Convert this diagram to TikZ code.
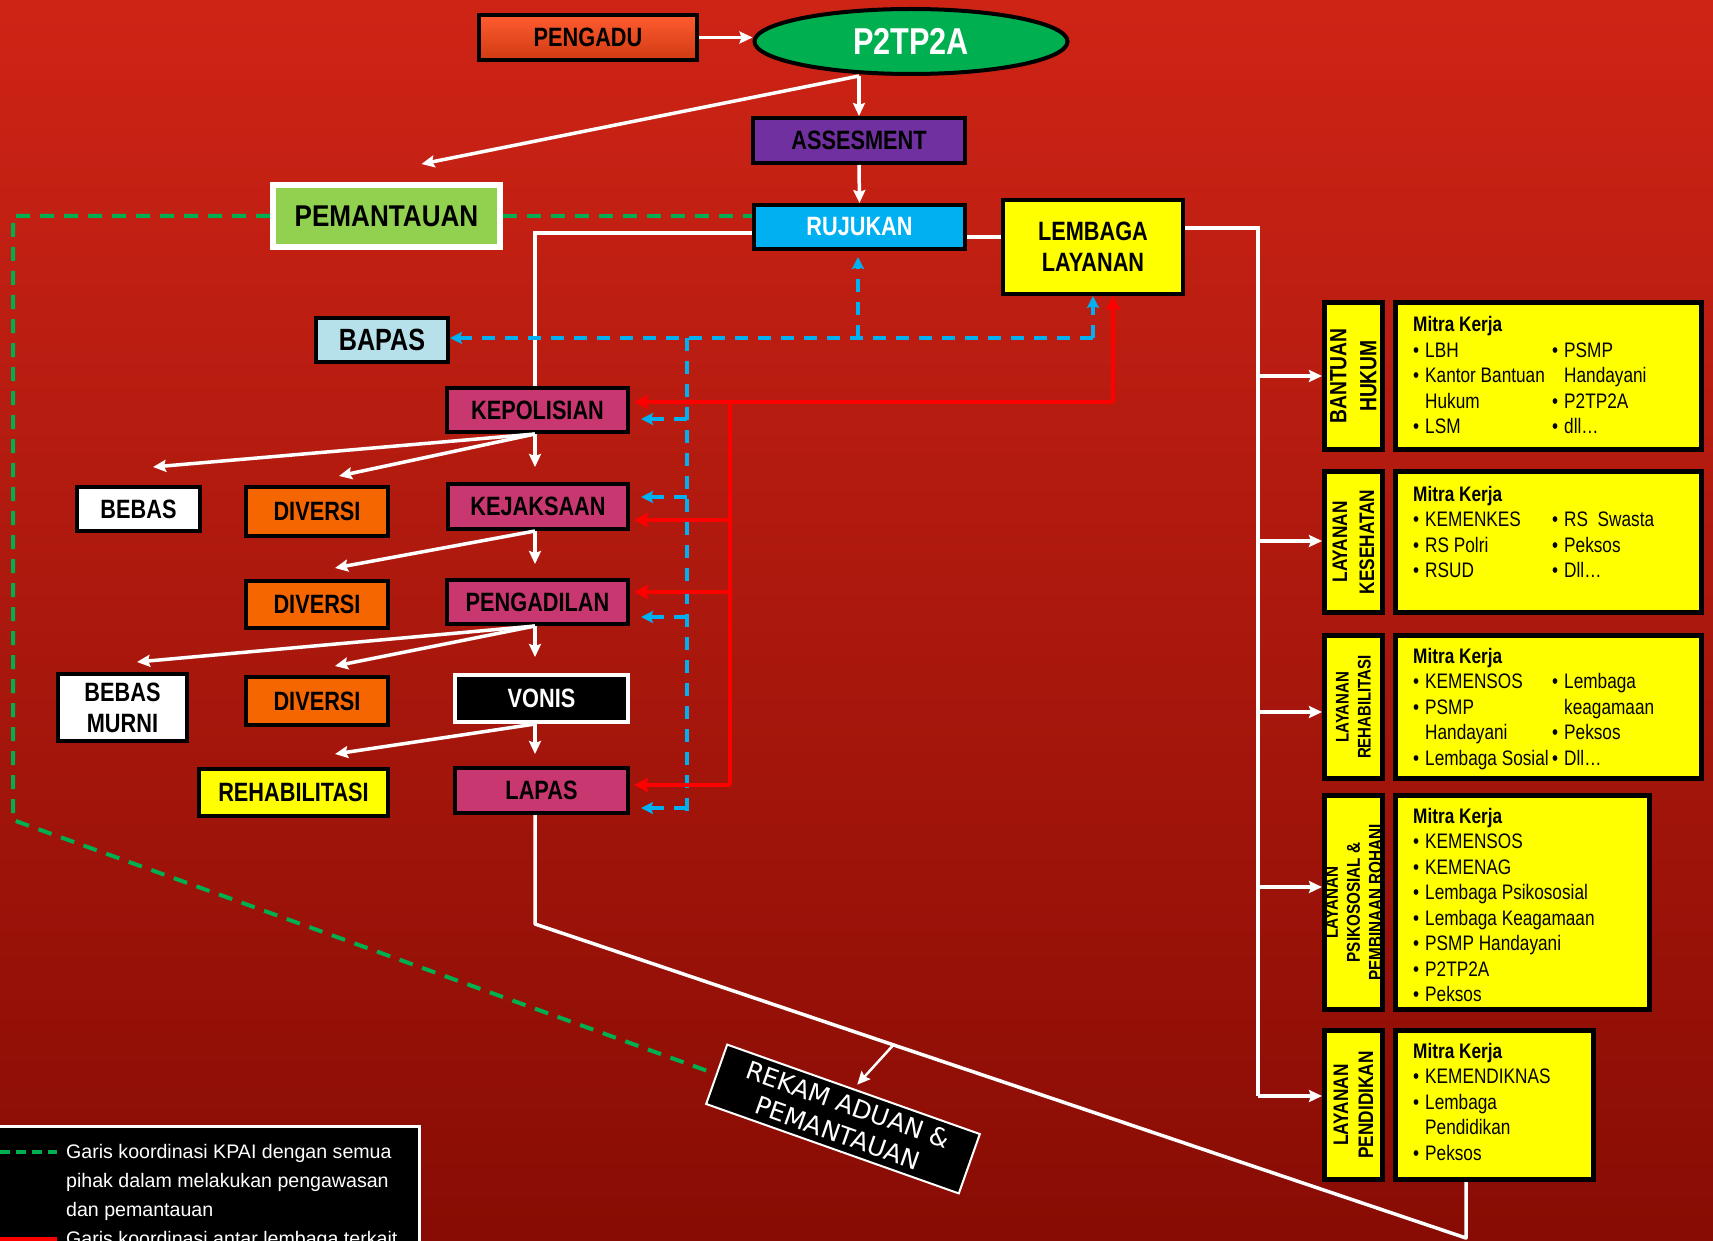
\documentclass[tikz,border=0pt]{standalone}
\usepackage{fontspec}
\setmainfont{Liberation Sans}
\newfontfamily\nar[FakeStretch=0.82]{Liberation Sans}
\newfontfamily\pemf[FakeStretch=0.87]{Liberation Sans}
\newfontfamily\dvs{DejaVu Sans}
\usetikzlibrary{shapes.geometric,arrows.meta,calc}
\newcommand\setfs[2]{\fontsize{#1pt}{#2pt}\selectfont}
\newcommand\bul{\makebox[12pt][l]{\textbullet}}

\definecolor{bgtop}{RGB}{206,36,22}
\definecolor{bgbot}{RGB}{136,12,4}
\definecolor{pengtop}{RGB}{255,92,48}
\definecolor{pengbot}{RGB}{208,58,18}
\definecolor{pgreen}{RGB}{0,176,80}
\definecolor{ppurple}{RGB}{112,48,160}
\definecolor{lgreen}{RGB}{146,208,80}
\definecolor{cyanb}{RGB}{0,176,240}
\definecolor{pyellow}{RGB}{255,255,0}
\definecolor{bapasc}{RGB}{182,224,234}
\definecolor{magc}{RGB}{200,55,112}
\definecolor{orangec}{RGB}{245,102,0}
\definecolor{redl}{RGB}{255,0,0}
\definecolor{blued}{RGB}{0,176,240}
\definecolor{greend}{RGB}{0,176,80}

\tikzset{
  boxst/.style={draw=black, line width=4pt, inner sep=0pt, align=center,
    font=\nar\bfseries\setfs{26.5}{31}},
  labelst/.style={draw=black, line width=5pt, fill=pyellow, inner sep=0pt,
    align=center, rotate=90, minimum height=58pt},
  mitrast/.style={draw=black, line width=5pt, fill=pyellow, inner sep=0pt},
  itemst/.style={anchor=base west, inner sep=0pt, font=\nar\setfs{21}{25.5}},
  headst/.style={anchor=base west, inner sep=0pt, font=\nar\bfseries\setfs{21}{25.5}},
  legst/.style={anchor=base west, inner sep=0pt, text=white, font=\setfs{19.6}{29}},
  wline/.style={draw=white, line width=3.5pt},
  warrow/.style={wline, -{Stealth[length=13pt,width=12pt,inset=2pt]}},
  bdash/.style={draw=blued, line width=3.5pt, dash pattern=on 13pt off 10pt},
  barrow/.style={bdash, -{Stealth[length=12pt,width=12pt,inset=2pt]}},
  rline/.style={draw=redl, line width=4pt},
  rarrow/.style={rline, -{Stealth[length=14pt,width=14pt,inset=2pt]}},
  gdash/.style={draw=greend, line width=4pt, dash pattern=on 14pt off 10pt},
}

\begin{document}
\begin{tikzpicture}[x=1pt,y=-1pt]
\useasboundingbox (0,0) rectangle (1713,1241);
\shade[top color=bgtop, bottom color=bgbot] (0,0) rectangle (1713,1241);

% ---------- top flow ----------
\node[boxst, minimum width=218pt, minimum height=45pt, top color=pengtop, bottom color=pengbot] (pengadu) at (588,37.5) {PENGADU};
\node[ellipse, draw=black, line width=4pt, fill=pgreen, minimum width=313pt, minimum height=65pt,
  inner sep=0pt, text=white, font=\nar\bfseries\setfs{37.4}{40}] (p2) at (911,41.5) {P2TP2A};
\node[boxst, fill=ppurple, minimum width=212pt, minimum height=45pt] (asses) at (859,140.5) {ASSESMENT};
\node[boxst, draw=white, line width=6pt, fill=lgreen, minimum width=227pt, minimum height=62pt,
  font=\pemf\bfseries\setfs{30}{34}] (pem) at (386.5,216) {PEMANTAUAN};
\node[boxst, fill=cyanb, text=white, minimum width=211pt, minimum height=44pt] (ruj) at (859.5,227) {RUJUKAN};
\node[boxst, fill=pyellow, minimum width=180pt, minimum height=94pt] (lemb) at (1093,247) {LEMBAGA\\LAYANAN};
\node[boxst, fill=bapasc, minimum width=132pt, minimum height=44pt, font=\nar\bfseries\setfs{30.7}{34}] (bapas) at (382,340) {BAPAS};

% ---------- justice chain ----------
\node[boxst, fill=magc, minimum width=181pt, minimum height=44pt] (kep) at (537.5,410) {KEPOLISIAN};
\node[boxst, fill=magc, minimum width=180pt, minimum height=45pt] (kej) at (538,506.5) {KEJAKSAAN};
\node[boxst, fill=magc, minimum width=181pt, minimum height=44pt] (peng) at (537.5,602) {PENGADILAN};
\node[boxst, fill=black, draw=white, text=white, minimum width=173pt, minimum height=47pt] (vonis) at (541.5,698.5) {VONIS};
\node[boxst, fill=magc, minimum width=173pt, minimum height=45pt] (lapas) at (541.5,790.5) {LAPAS};
\node[boxst, fill=white, minimum width=123pt, minimum height=44pt] (bebas) at (138.5,509) {BEBAS};
\node[boxst, fill=orangec, minimum width=142pt, minimum height=49pt] (div1) at (317,511.5) {DIVERSI};
\node[boxst, fill=orangec, minimum width=142pt, minimum height=47pt] (div2) at (317,604.5) {DIVERSI};
\node[boxst, fill=white, minimum width=129pt, minimum height=67pt] (bmurni) at (122.5,707.5) {BEBAS\\MURNI};
\node[boxst, fill=orangec, minimum width=142pt, minimum height=48pt] (div3) at (317,701) {DIVERSI};
\node[boxst, fill=pyellow, minimum width=189pt, minimum height=47pt] (rehab) at (293.5,792.5) {REHABILITASI};

% ---------- service boxes ----------
\node[labelst, minimum width=147pt, font=\nar\bfseries\setfs{23.5}{30}] (lb1) at (1353.5,376) {BANTUAN\\HUKUM};
\node[labelst, minimum width=141pt, font=\nar\bfseries\setfs{21}{27}] (lb2) at (1353.5,542) {LAYANAN\\KESEHATAN};
\node[labelst, minimum width=143pt, font=\nar\bfseries\setfs{18.3}{22}] (lb3) at (1353.5,707) {LAYANAN\\REHABILITASI};
\node[labelst, minimum width=214pt, font=\nar\bfseries\setfs{18.6}{22}] (lb4) at (1353.5,902.5) {LAYANAN\\PSIKOSOSIAL \&\\PEMBINAAN ROHANI};
\node[labelst, minimum width=149pt, font=\nar\bfseries\setfs{21}{25}] (lb5) at (1353.5,1105) {LAYANAN\\PENDIDIKAN};

\node[mitrast, minimum width=306pt, minimum height=147pt] (mk1) at (1548.5,376) {};
\node[mitrast, minimum width=306pt, minimum height=141pt] (mk2) at (1548.5,542) {};
\node[mitrast, minimum width=306pt, minimum height=143pt] (mk3) at (1548.5,707) {};
\node[mitrast, minimum width=254pt, minimum height=214pt] (mk4) at (1522.5,902.5) {};
\node[mitrast, minimum width=198pt, minimum height=149pt] (mk5) at (1494.5,1105) {};

% Mitra Kerja lists
\node[headst] (mk1t) at (1413,331) {Mitra Kerja};
\node[itemst] (mk1a) at (1413,357) {\bul LBH};
\node[itemst] (mk1b) at (1413,382.5) {\bul Kantor Bantuan};
\node[itemst] (mk1c) at (1425,408) {Hukum};
\node[itemst] (mk1d) at (1413,433.5) {\bul LSM};
\node[itemst] (mk1e) at (1552,357) {\bul PSMP};
\node[itemst] (mk1f) at (1564,382.5) {Handayani};
\node[itemst] (mk1g) at (1552,408) {\bul P2TP2A};
\node[itemst] (mk1h) at (1552,433.5) {\bul dll…};

\node[headst] (mk2t) at (1413,501) {Mitra Kerja};
\node[itemst] (mk2a) at (1413,526.5) {\bul KEMENKES};
\node[itemst] (mk2b) at (1413,552) {\bul RS Polri};
\node[itemst] (mk2c) at (1413,577.5) {\bul RSUD};
\node[itemst] (mk2d) at (1552,526.5) {\bul RS\ \ Swasta};
\node[itemst] (mk2e) at (1552,552) {\bul Peksos};
\node[itemst] (mk2f) at (1552,577.5) {\bul Dll…};

\node[headst] (mk3t) at (1413,663) {Mitra Kerja};
\node[itemst] (mk3a) at (1413,688.5) {\bul KEMENSOS};
\node[itemst] (mk3b) at (1413,714) {\bul PSMP};
\node[itemst] (mk3c) at (1425,739.5) {Handayani};
\node[itemst] (mk3d) at (1413,765) {\bul Lembaga Sosial};
\node[itemst] (mk3e) at (1552,688.5) {\bul Lembaga};
\node[itemst] (mk3f) at (1564,714) {keagamaan};
\node[itemst] (mk3g) at (1552,739.5) {\bul Peksos};
\node[itemst] (mk3h) at (1552,765) {\bul Dll…};

\node[headst] (mk4t) at (1413,823) {Mitra Kerja};
\foreach \t [count=\i] in {KEMENSOS, KEMENAG, Lembaga Psikososial, Lembaga Keagamaan, PSMP Handayani, P2TP2A, Peksos}
  \node[itemst] (mk4-\i) at (1413,{823+25.5*\i}) {\bul \t};

\node[headst] (mk5t) at (1413,1058) {Mitra Kerja};
\node[itemst] (mk5a) at (1413,1083.5) {\bul KEMENDIKNAS};
\node[itemst] (mk5b) at (1413,1109) {\bul Lembaga};
\node[itemst] (mk5c) at (1425,1134.5) {Pendidikan};
\node[itemst] (mk5d) at (1413,1160) {\bul Peksos};

% ---------- record box ----------
\node[draw=white, line width=2pt, fill=black, text=white, rotate=-19.5, minimum width=268pt,
  minimum height=63pt, inner sep=0pt, align=center, font=\dvs\setfs{25}{30}] (rekam) at (843,1119)
  {REKAM ADUAN \&\\PEMANTAUAN};

% ---------- white connectors ----------
\coordinate (pOut) at (p2.south -| asses.north);
\draw[warrow] (pengadu.east) -- (pengadu.east -| p2.west);
\draw[warrow] (pOut) -- (asses.north);
\draw[warrow] (pOut) -- ($(pem.north)+(35,-18)$);
\draw[warrow] (asses.south) -- (ruj.north);
\coordinate (rjOut) at ([yshift=-10pt]ruj.east);
\draw[wline] (rjOut) -- (rjOut -| lemb.west);

\coordinate (spine) at (535,0);
\draw[wline] ([yshift=-6pt]ruj.west) -| (kep.north -| spine);

\draw[warrow] (kep.south -| spine) -- ($(bebas.north)+(14.5,-18)$);
\draw[warrow] (kep.south -| spine) -- ($(div1.north)+(22,-9)$);
\draw[warrow, shorten >=15pt] (kep.south -| spine) -- (kej.north -| spine);

\draw[warrow] (kej.south -| spine) -- ($(div2.north)+(18,-11)$);
\draw[warrow, shorten >=14pt] (kej.south -| spine) -- (peng.north -| spine);

\draw[warrow] (peng.south -| spine) -- ($(bmurni.north)+(14.5,-10)$);
\draw[warrow] (peng.south -| spine) -- ($(div3.north)+(18,-9)$);
\draw[warrow, shorten >=16pt] (peng.south -| spine) -- (vonis.north -| spine);

\draw[warrow] (vonis.south -| spine) -- ($(rehab.north)+(41.5,-13)$);
\draw[warrow, shorten >=12pt] (vonis.south -| spine) -- (lapas.north -| spine);

\coordinate (lTurn) at (535,924);
\coordinate (lEnd) at (1466,1238);
\draw[wline, line join=round] (lapas.south -| lTurn) -- (lTurn) -- (lEnd) -- (lEnd |- mk5.south);
\draw[warrow, line width=2.5pt, shorten >=5pt] ($(lTurn)!0.385!(lEnd)$) -- (rekam.north);

% trunk to the services
\coordinate (tTop) at (1258,228);
\coordinate (t1) at (1258,376);
\coordinate (t2) at (1258,541);
\coordinate (t3) at (1258,712);
\coordinate (t4) at (1258,887);
\coordinate (t5) at (1258,1096);
\draw[wline] (lemb.east |- tTop) -- (tTop) -- (t5);
\draw[warrow] (t1) -- (t1 -| lb1.north);
\draw[warrow] (t2) -- (t2 -| lb2.north);
\draw[warrow] (t3) -- (t3 -| lb3.north);
\draw[warrow] (t4) -- (t4 -| lb4.north);
\draw[warrow] (t5) -- (t5 -| lb5.north);

% ---------- blue dashed ----------
\coordinate (bJ) at (1093,338);
\coordinate (bR) at (858,338);
\coordinate (bV) at (687,338);
\coordinate (bVe) at (687,811);
\draw[barrow] (bJ) -- (bJ -| bapas.east);
\draw[barrow] (bJ) -- (lemb.south);
\draw[barrow, shorten >=6pt] (bR) -- (bR |- ruj.south);
\draw[bdash] (bV) -- (bVe);
\coordinate (bk1) at (687,419);
\coordinate (bk2) at (687,497);
\coordinate (bk3) at (687,617);
\coordinate (bk4) at (687,808);
\draw[barrow, shorten >=11pt] (bk1) -- (bk1 -| kep.east);
\draw[barrow, shorten >=11pt] (bk2) -- (bk2 -| kej.east);
\draw[barrow, shorten >=11pt] (bk3) -- (bk3 -| peng.east);
\draw[barrow, shorten >=11pt] (bk4) -- (bk4 -| lapas.east);

% ---------- red coordination ----------
\coordinate (rT) at (1113,402);
\coordinate (rV) at (730,402);
\coordinate (r2) at (730,520);
\coordinate (r3) at (730,592);
\coordinate (r4) at (730,785);
\draw[rarrow] (rT) -- (rT |- lemb.south);
\draw[rarrow, shorten >=4pt] (rT) -- (rT -| kep.east);
\draw[rline] (rV) -- (r4);
\draw[rarrow, shorten >=4pt] (r2) -- (r2 -| kej.east);
\draw[rarrow, shorten >=4pt] (r3) -- (r3 -| peng.east);
\draw[rarrow, shorten >=4pt] (r4) -- (r4 -| lapas.east);

% ---------- green dashed ----------
\coordinate (gTL) at (13,216);
\coordinate (gBL) at (13,820);
\draw[gdash] (pem.east) -- (pem.east -| ruj.west);
\draw[gdash] (pem.west) -- (pem.west -| gTL) -- (gBL) -- (rekam.west);

% ---------- legend ----------
\node[draw=white, line width=3pt, fill=black, minimum width=430pt, minimum height=130pt, inner sep=0pt] (legend) at (204.5,1191.5) {};
\coordinate (lgA) at (0,1152);
\coordinate (lgB) at (57,1152);
\draw[gdash, dash pattern=on 10pt off 6pt] (lgA) -- (lgB);
\coordinate (lrA) at (0,1241);
\coordinate (lrB) at (57,1241);
\draw[rline, line width=8pt] (lrA) -- (lrB);
\node[legst] (leg1) at (66,1158) {Garis koordinasi KPAI dengan semua};
\node[legst] (leg2) at (66,1187) {pihak dalam melakukan pengawasan};
\node[legst] (leg3) at (66,1216) {dan pemantauan};
\node[legst] (leg4) at (66,1245) {Garis koordinasi antar lembaga terkait};
\end{tikzpicture}
\end{document}
